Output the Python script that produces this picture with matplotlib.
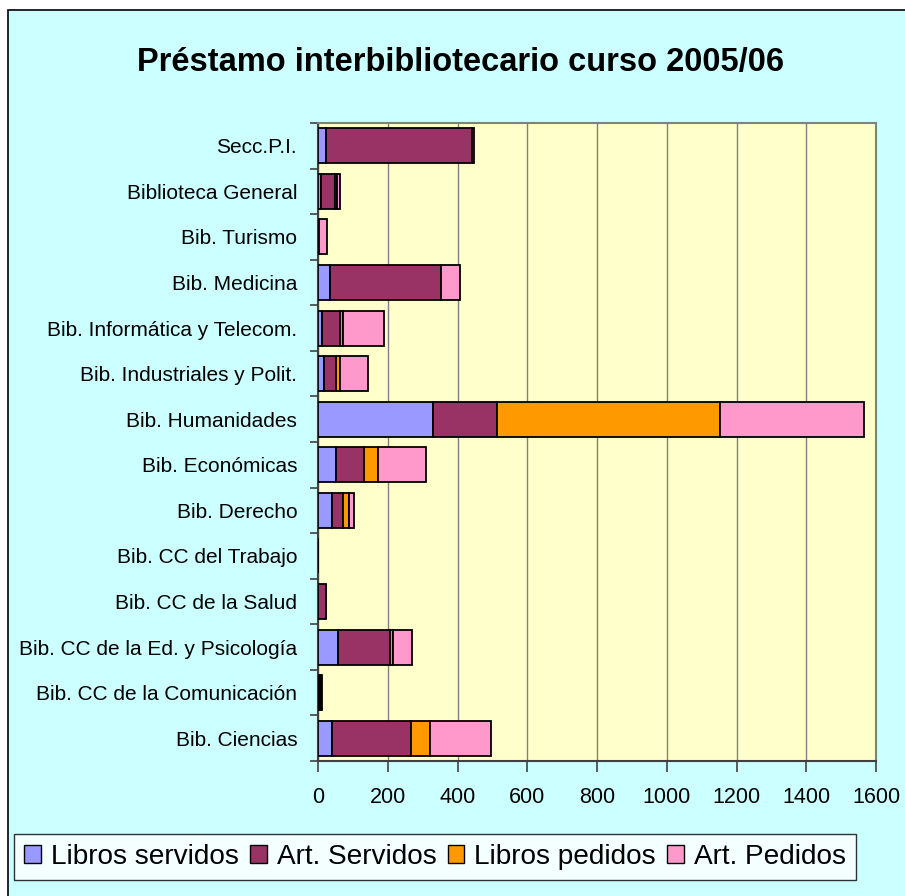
import matplotlib
matplotlib.use("Agg")
import matplotlib.pyplot as plt
from matplotlib.patches import Rectangle, Patch
import numpy as np

plt.rcParams['font.family'] = ['Liberation Sans', 'DejaVu Sans']

categories = [
    "Secc.P.I.",
    "Biblioteca General",
    "Bib. Turismo",
    "Bib. Medicina",
    "Bib. Informática y Telecom.",
    "Bib. Industriales y Polit.",
    "Bib. Humanidades",
    "Bib. Económicas",
    "Bib. Derecho",
    "Bib. CC del Trabajo",
    "Bib. CC de la Salud",
    "Bib. CC de la Ed. y Psicología",
    "Bib. CC de la Comunicación",
    "Bib. Ciencias",
]
libros_servidos = [22, 10, 0, 34, 11, 18, 331, 51, 39, 0, 1, 56, 2, 40]
art_servidos    = [419, 40, 3, 320, 52, 33, 183, 80, 34, 0, 21, 150, 5, 228]
libros_pedidos  = [0, 5, 0, 0, 10, 11, 639, 40, 17, 0, 0, 10, 2, 52]
art_pedidos     = [5, 9, 24, 52, 116, 82, 413, 138, 12, 0, 0, 53, 3, 177]

series_names = ["Libros servidos", "Art. Servidos", "Libros pedidos", "Art. Pedidos"]
series_vals = [libros_servidos, art_servidos, libros_pedidos, art_pedidos]
colors = ["#9999FF", "#993366", "#FF9900", "#FF99CC"]
x_ticks = [0, 200, 400, 600, 800, 1000, 1200, 1400, 1600]

W, H = 905, 896
fig = plt.figure(figsize=(W / 100, H / 100), dpi=100)
fig.patch.set_facecolor("white")

# chart area frame
fig.patches.append(Rectangle((8 / W, -0.05), 1.2, (H - 10) / H + 0.05,
                             transform=fig.transFigure, facecolor="#CCFFFF",
                             edgecolor="black", linewidth=1.2, zorder=-10))

ax = fig.add_axes([318 / W, (H - 761) / H, (876 - 318) / W, (761 - 123) / H])
ax.set_zorder(2)
ax.set_facecolor("#FFFFCC")

y = np.arange(len(categories))
left = np.zeros(len(categories))
for name, vals, c in zip(series_names, series_vals, colors):
    v = np.array(vals, dtype=float)
    ax.barh(y, v, left=left, height=0.77, color=c, edgecolor="black",
            linewidth=1.3, label=name, zorder=3)
    left += v

ax.set_xlim(0, 1600)
ax.set_ylim(len(categories) - 0.5, -0.5)
ax.set_xticks(x_ticks)
ax.set_xticklabels([str(t) for t in x_ticks], fontsize=15.5)
ax.xaxis.grid(True, color="#808080", linewidth=1.0, zorder=1)
ax.set_axisbelow(True)

ax.set_yticks(y)
ax.set_yticklabels(categories, fontsize=15)
ax.tick_params(axis='y', which='major', length=0, pad=15)
ax.set_yticks(np.arange(-0.5, len(categories) + 0.5, 1), minor=True)
ax.tick_params(axis='y', which='minor', length=6, width=1.2, color="#404040", direction='out')
ax.tick_params(axis='x', which='major', length=8, width=1.2, color="#404040", direction='out', pad=11)

for s in ["top", "right"]:
    ax.spines[s].set_color("#808080")
    ax.spines[s].set_linewidth(1.5)
for s in ["left", "bottom"]:
    ax.spines[s].set_color("#404040")
    ax.spines[s].set_linewidth(1.5)

fig.text(460 / W, 1 - 62 / H, "Préstamo interbibliotecario curso 2005/06",
         ha="center", va="center", fontsize=23.5, fontweight="bold")

handles = [Patch(facecolor=c, edgecolor="black", linewidth=1.0) for c in colors]
leg = fig.legend(handles, series_names, loc="center",
                 bbox_to_anchor=(435 / W, 1 - 857 / H), ncol=4, fontsize=20.2,
                 frameon=True, fancybox=False, edgecolor="black",
                 handlelength=0.6, handleheight=0.6, handletextpad=0.35,
                 columnspacing=0.4, borderpad=0.35)
leg.get_frame().set_linewidth(1.0)
leg.get_frame().set_facecolor("white")

fig.savefig("out.png", dpi=100, facecolor=fig.get_facecolor())
